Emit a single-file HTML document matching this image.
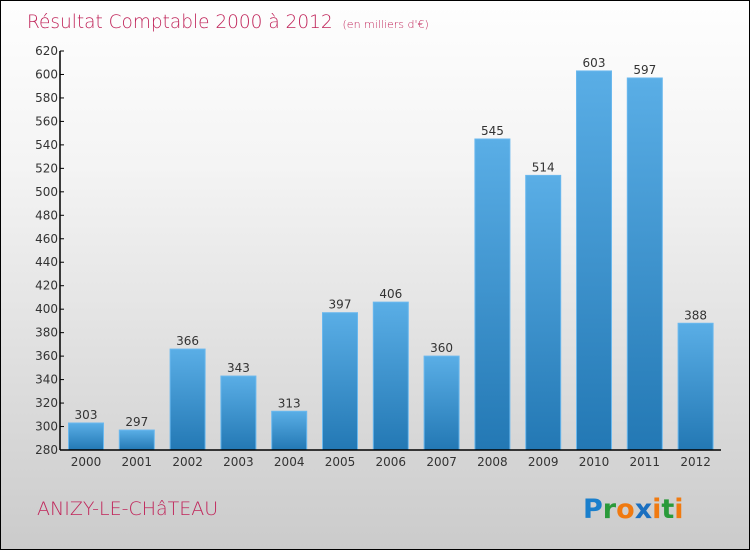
<!DOCTYPE html>
<html><head><meta charset="utf-8"><style>
body{margin:0;}
#wrap{position:relative;width:748px;height:548px;border:1px solid #000;background:linear-gradient(#fefefe,#f4f4f4 30%,#cbcbcb);overflow:hidden;font-family:"DejaVu Sans","Liberation Sans",sans-serif;}
</style></head><body>
<div id="wrap">
<svg id="chart" width="748" height="548">
<defs>
<linearGradient id="bg" x1="0" y1="0" x2="0" y2="1"><stop offset="0" stop-color="#5aaee6"/><stop offset="1" stop-color="#2378b4"/></linearGradient>
</defs>
<text x="26" y="27" font-size="18.5" fill="#c0255a" font-family="DejaVu Sans" font-weight="200">Résultat Comptable 2000 à 2012 <tspan font-size="11" dx="4">(en milliers d'€)</tspan></text>
<text x="36" y="514" font-size="19" fill="#c0255a" font-weight="200">ANIZY-LE-CHâTEAU</text>
<text x="582" y="517" font-size="27" font-family="DejaVu Sans" font-weight="bold"><tspan fill="#1a7fcc">P</tspan><tspan fill="#2a9a3a">r</tspan><tspan fill="#f07a10">o</tspan><tspan fill="#1a6fc0">x</tspan><tspan fill="#f07a10">i</tspan><tspan fill="#2a9a3a">t</tspan><tspan fill="#f07a10">i</tspan></text>
<g id="plot"></g>
</svg>
</div>
<script>
const categories=["2000","2001","2002","2003","2004","2005","2006","2007","2008","2009","2010","2011","2012"];
const values=[303,297,366,343,313,397,406,360,545,514,603,597,388];
const yTicks=[280,300,320,340,360,380,400,420,440,460,480,500,520,540,560,580,600,620];
const yMin=280,yMax=620,plotTop=50,plotBot=449,axX=59,axR=720;
const y=v=>plotBot-(v-yMin)/(yMax-yMin)*(plotBot-plotTop);
const xc=i=>85+i*50.8;
const g=document.getElementById('plot');
const NS='http://www.w3.org/2000/svg';
function mk(t,a){const e=document.createElementNS(NS,t);for(const k in a)e.setAttribute(k,a[k]);g.appendChild(e);return e;}
values.forEach((v,i)=>{
 const r=mk('rect',{x:xc(i)-17.5,y:y(v),width:35,height:plotBot-y(v),fill:'url(#bg)',stroke:'#6ab8ee','stroke-width':1});
 
 
 const t=mk('text',{x:xc(i),y:y(v)-4,'text-anchor':'middle','font-size':12,fill:'#333'});
 t.textContent=v;
 
 
 const c=mk('text',{x:xc(i),y:plotBot+16,'text-anchor':'middle','font-size':12,fill:'#333'});
 c.textContent=categories[i];
 
 
});
yTicks.forEach(v=>{
 const l=mk('line',{x1:axX,x2:axX+4,y1:y(v),y2:y(v),stroke:'#000'});
 
 
 const t=mk('text',{x:axX-2,y:y(v)+4,'text-anchor':'end','font-size':12,fill:'#333'});
 t.textContent=v;
 
 
});
const ya=mk('line',{x1:axX,x2:axX,y1:plotTop,y2:plotBot,stroke:'#000','stroke-width':1.5});


const xa=mk('line',{x1:axX,x2:axR,y1:plotBot,y2:plotBot,stroke:'#000','stroke-width':1.5});


</script>
</body></html>
